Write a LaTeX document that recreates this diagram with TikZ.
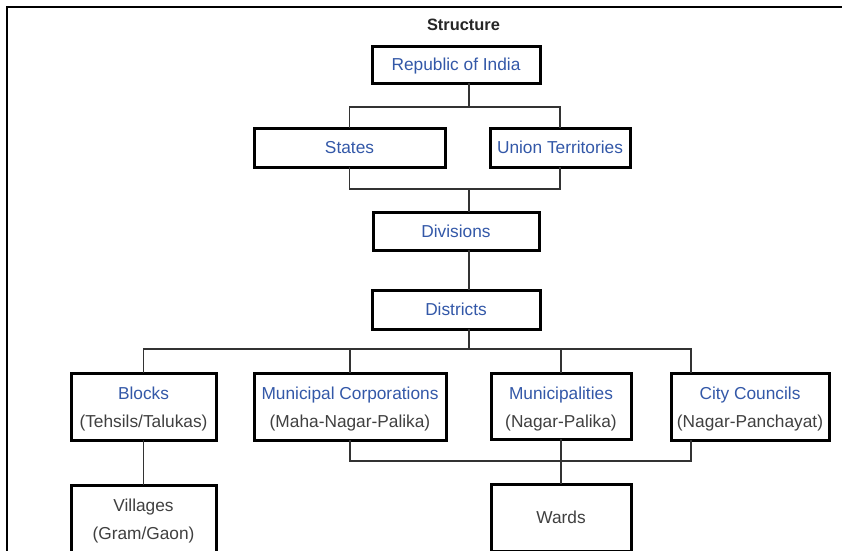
\documentclass[tikz,border=0pt]{standalone}
\usepackage{fontspec}
\setmainfont{Liberation Sans}
\definecolor{linkblue}{HTML}{3358A8}
\definecolor{txtgrey}{HTML}{404040}
\definecolor{conncol}{HTML}{333333}
\newcommand{\boxfont}{\fontsize{17.3pt}{28pt}\selectfont}
\begin{document}
\begin{tikzpicture}[x=1pt,y=-1pt,
  box/.style={draw=black,line width=3pt,fill=white,inner sep=0pt,outer sep=0pt,
    font=\boxfont,align=center},
  one/.style={text height=12.4pt,text depth=0pt,text=linkblue},
  two/.style={label={[font=\boxfont,align=center,inner sep=0pt,yshift=-2.8pt]center:{#1}}},
  conn/.style={draw=conncol,line width=1.5pt},
  frame/.style={draw=black,line width=2pt}]
\useasboundingbox (0,0) rectangle (842,550);
\clip (0,0) rectangle (842,550);
\fill[white] (0,0) rectangle (842,550);
\draw[frame] (7,570) -- (7,7) -- (870,7);
\node[anchor=base,font=\fontsize{16.4pt}{20pt}\selectfont\bfseries,text=black!85] (title) at (463.5,30) {Structure};
\node[box,one,minimum width=168pt,minimum height=37pt] (rep) at (456,64.5) {Republic of India};
\node[box,one,minimum width=191pt,minimum height=39pt] (states) at (349.5,147.5) {States};
\node[box,one,minimum width=140pt,minimum height=39pt] (ut) at (560,147.5) {Union Territories};
\node[box,one,minimum width=166pt,minimum height=38pt] (div) at (456,231) {Divisions};
\node[box,one,minimum width=168pt,minimum height=39pt] (dist) at (456,309.5) {Districts};
\node[box,minimum width=145pt,minimum height=67pt,two={\textcolor{linkblue}{Blocks}\\\textcolor{txtgrey}{(Tehsils/Talukas)}}] (blocks) at (143.5,406.5) {};
\node[box,minimum width=192pt,minimum height=67pt,two={\textcolor{linkblue}{Municipal Corporations}\\\textcolor{txtgrey}{(Maha-Nagar-Palika)}}] (mc) at (350,406.5) {};
\node[box,minimum width=140pt,minimum height=66pt,two={\textcolor{linkblue}{Municipalities}\\\textcolor{txtgrey}{(Nagar-Palika)}}] (mun) at (561,406) {};
\node[box,minimum width=158pt,minimum height=67pt,two={\textcolor{linkblue}{City Councils}\\\textcolor{txtgrey}{(Nagar-Panchayat)}}] (cc) at (750,406.5) {};
\node[box,minimum width=145pt,minimum height=67pt,two={\textcolor{txtgrey}{Villages}\\\textcolor{txtgrey}{(Gram/Gaon)}}] (vil) at (143.5,518.5) {};
\node[box,minimum width=140pt,minimum height=67pt,text height=12.4pt,text depth=0pt,text=txtgrey] (wards) at (561,517.5) {Wards};
\coordinate (j1) at (469,107);
\coordinate (j2) at (469,189);
\coordinate (j3) at (469,349);
\coordinate (j4) at (561,461);
\coordinate (ccx) at (691,0);
\draw[conn] (rep.south -| j1) -- (j1);
\draw[conn] (states.north) |- (j1) -| (ut.north);
\draw[conn] (states.south) |- (j2) -| (ut.south);
\draw[conn] (j2) -- (div.north -| j2);
\draw[conn] (div.south -| j2) -- (dist.north -| j2);
\draw[conn] (dist.south -| j3) -- (j3);
\draw[conn] (blocks.north) |- (j3) -| (cc.north -| ccx);
\draw[conn] (mc.north) -- (mc.north |- j3);
\draw[conn] (mun.north) -- (mun.north |- j3);
\draw[conn] (blocks.south) -- (vil.north);
\draw[conn] (mc.south) |- (j4) -| (cc.south -| ccx);
\draw[conn] (mun.south) -- (wards.north);
\end{tikzpicture}
\end{document}
